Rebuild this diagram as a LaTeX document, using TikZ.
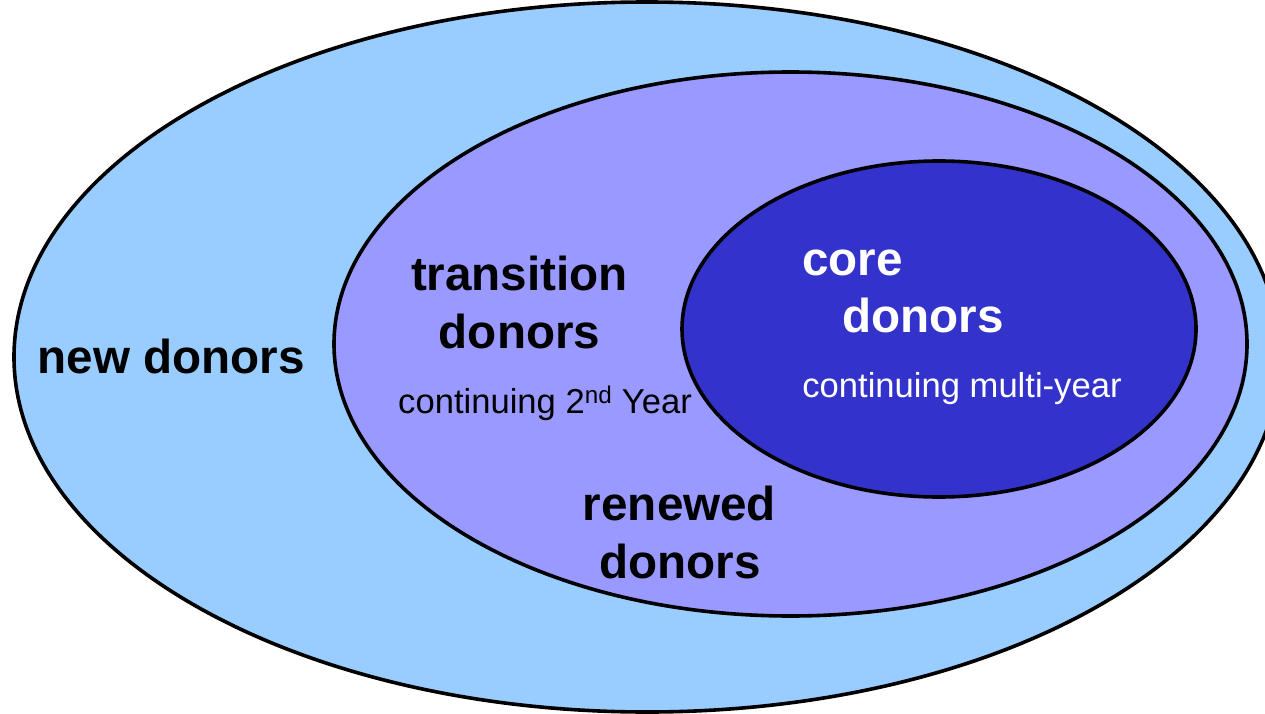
\documentclass[tikz,border=0pt]{standalone}
\usepackage{fontspec}
\setmainfont{Liberation Sans}
\tikzset{
  ring/.style={draw=black, line width=3.6pt},
  big/.style={font=\fontsize{47.6}{58}\selectfont\bfseries, inner sep=0pt, anchor=base},
  small/.style={font=\fontsize{34.6}{40}\selectfont, inner sep=0pt, anchor=base},
}
\definecolor{outerc}{HTML}{99CCFF}
\definecolor{midc}{HTML}{9999FF}
\definecolor{corec}{HTML}{3333CC}
\begin{document}
\begin{tikzpicture}[x=1pt,y=-1pt]
\useasboundingbox (0,0) rectangle (1265,714);
\begin{scope}
\clip (0,0) rectangle (1265,714);
\draw[ring, fill=outerc] (647,357) ellipse [x radius=633, y radius=355];
\draw[ring, fill=midc] (790.5,344) ellipse [x radius=456.5, y radius=272];
\draw[ring, fill=corec] (939,329) ellipse [x radius=257, y radius=168];
\end{scope}
\node[big] (new) at (171,373) {new donors};
\node[big] (tr1) at (519.5,290) {transition};
\node[big] (tr2) at (519.5,348) {donors};
\node[small] (tr3) at (545,413) {continuing 2\textsuperscript{nd} Year};
\node[big, text=white] (co1) at (852.5,275) {core};
\node[big, text=white] (co2) at (923,332) {donors};
\node[small, text=white] (co3) at (962,397) {continuing multi-year};
\node[big] (re1) at (679.5,520) {renewed};
\node[big] (re2) at (680,578) {donors};
\end{tikzpicture}
\end{document}
